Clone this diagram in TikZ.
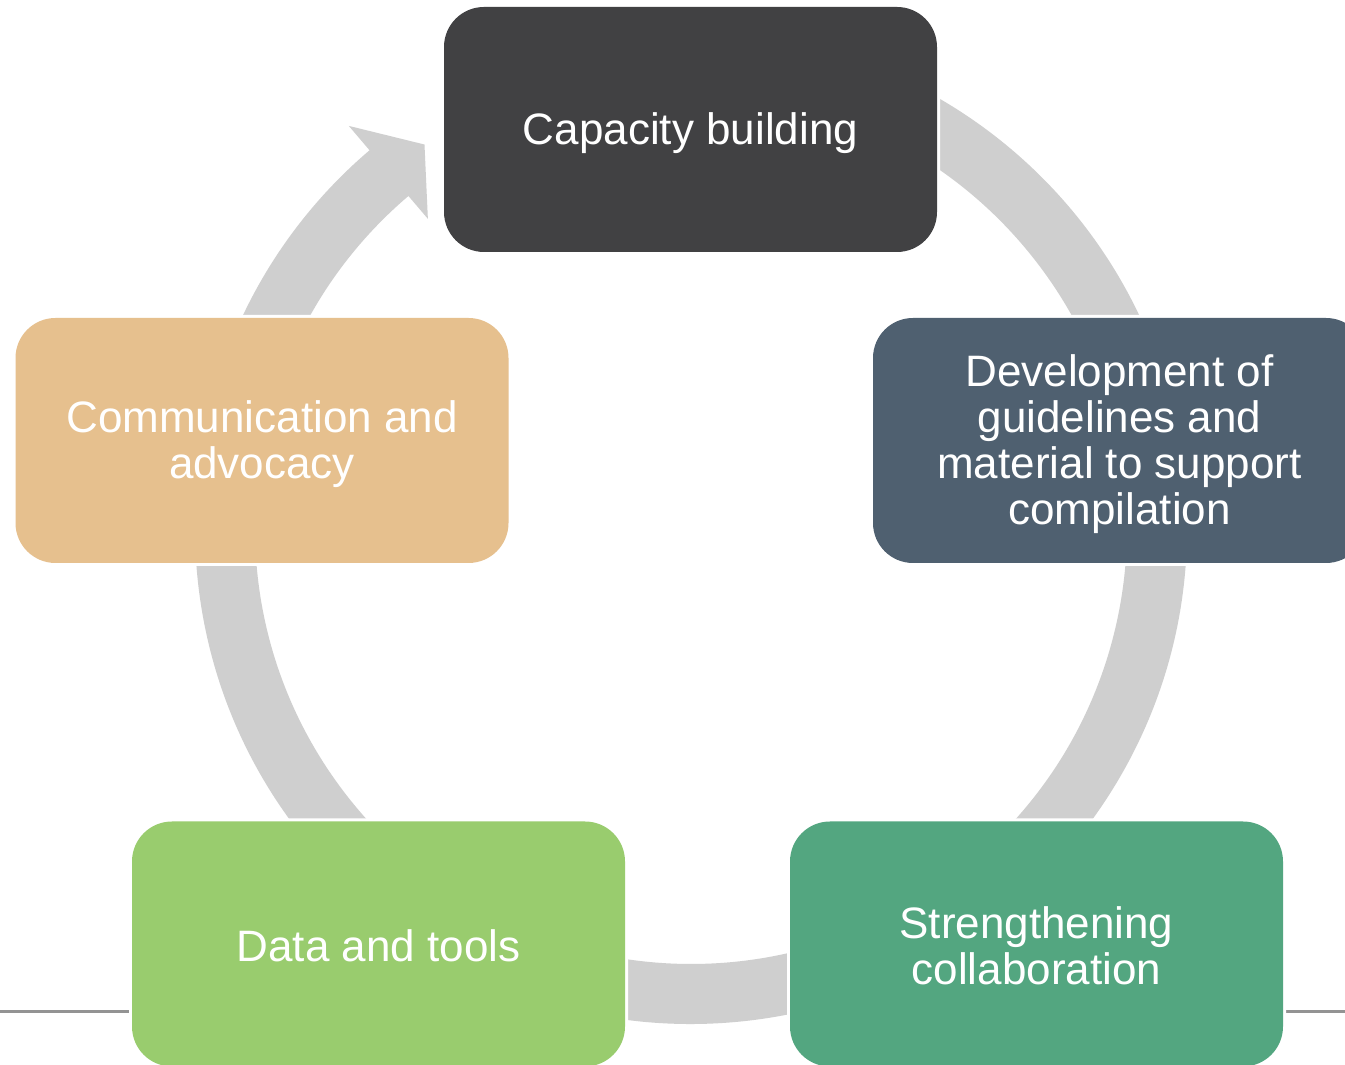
\documentclass[tikz,border=0pt]{standalone}
\usepackage{fontspec}
\setmainfont{Liberation Sans}
\definecolor{capc}{HTML}{414143}
\definecolor{devc}{HTML}{4F6070}
\definecolor{strc}{HTML}{53A680}
\definecolor{datac}{HTML}{99CC6E}
\definecolor{commc}{HTML}{E6C08E}
\definecolor{ringgray}{HTML}{CFCFCF}
\definecolor{linegray}{HTML}{939393}
\begin{document}
\begin{tikzpicture}[x=1pt,y=1pt,
  box/.style={rectangle, rounded corners=40pt, minimum width=493pt, minimum height=245pt,
    inner sep=0pt, preaction={draw=white, line width=6pt}},
  lbl/.style={inner sep=0pt, text=white, align=center, font=\fontsize{44}{46}\selectfont},
]
\useasboundingbox (0,0) rectangle (1345,1065);
\clip (0,0) rectangle (1345,1065);
\fill[white] (0,0) rectangle (1345,1065);
% base line
\coordinate (L1) at (0,53);
\coordinate (L2) at (1345,53);
\draw[linegray, line width=3pt] (L1) -- (L2);
% cycle ring with arrow head
\begin{scope}[shift={(691,537)}]
\fill[ringgray] (95:496pt) arc[start angle=95, end angle=-229.6, radius=496pt]
  -- (130.4:528pt) -- (124.8:467pt) -- (130.4:406pt) -- (130.4:436pt)
  arc[start angle=130.4, end angle=455, radius=436pt] -- cycle;
\end{scope}
% boxes
\node[box, fill=capc] (cap) at (690.5,935.5) {};
\node[box, fill=devc] (dev) at (1119.5,624.5) {};
\node[box, fill=strc] (str) at (1036.5,121) {};
\node[box, fill=datac] (data) at (378.5,121) {};
\node[box, fill=commc] (comm) at (262,624.5) {};
% labels
\node[lbl] (capT) at ([yshift=-4pt]cap.center) {Capacity building};
\node[lbl] (devT) at ([yshift=-4pt]dev.center) {Development of\\guidelines and\\material to support\\compilation};
\node[lbl] (strT) at ([yshift=-2pt]str.center) {Strengthening\\collaboration};
\node[lbl] (dataT) at ([yshift=-2pt]data.center) {Data and tools};
\node[lbl] (commT) at ([yshift=-4pt]comm.center) {Communication and\\advocacy};
\end{tikzpicture}
\end{document}
